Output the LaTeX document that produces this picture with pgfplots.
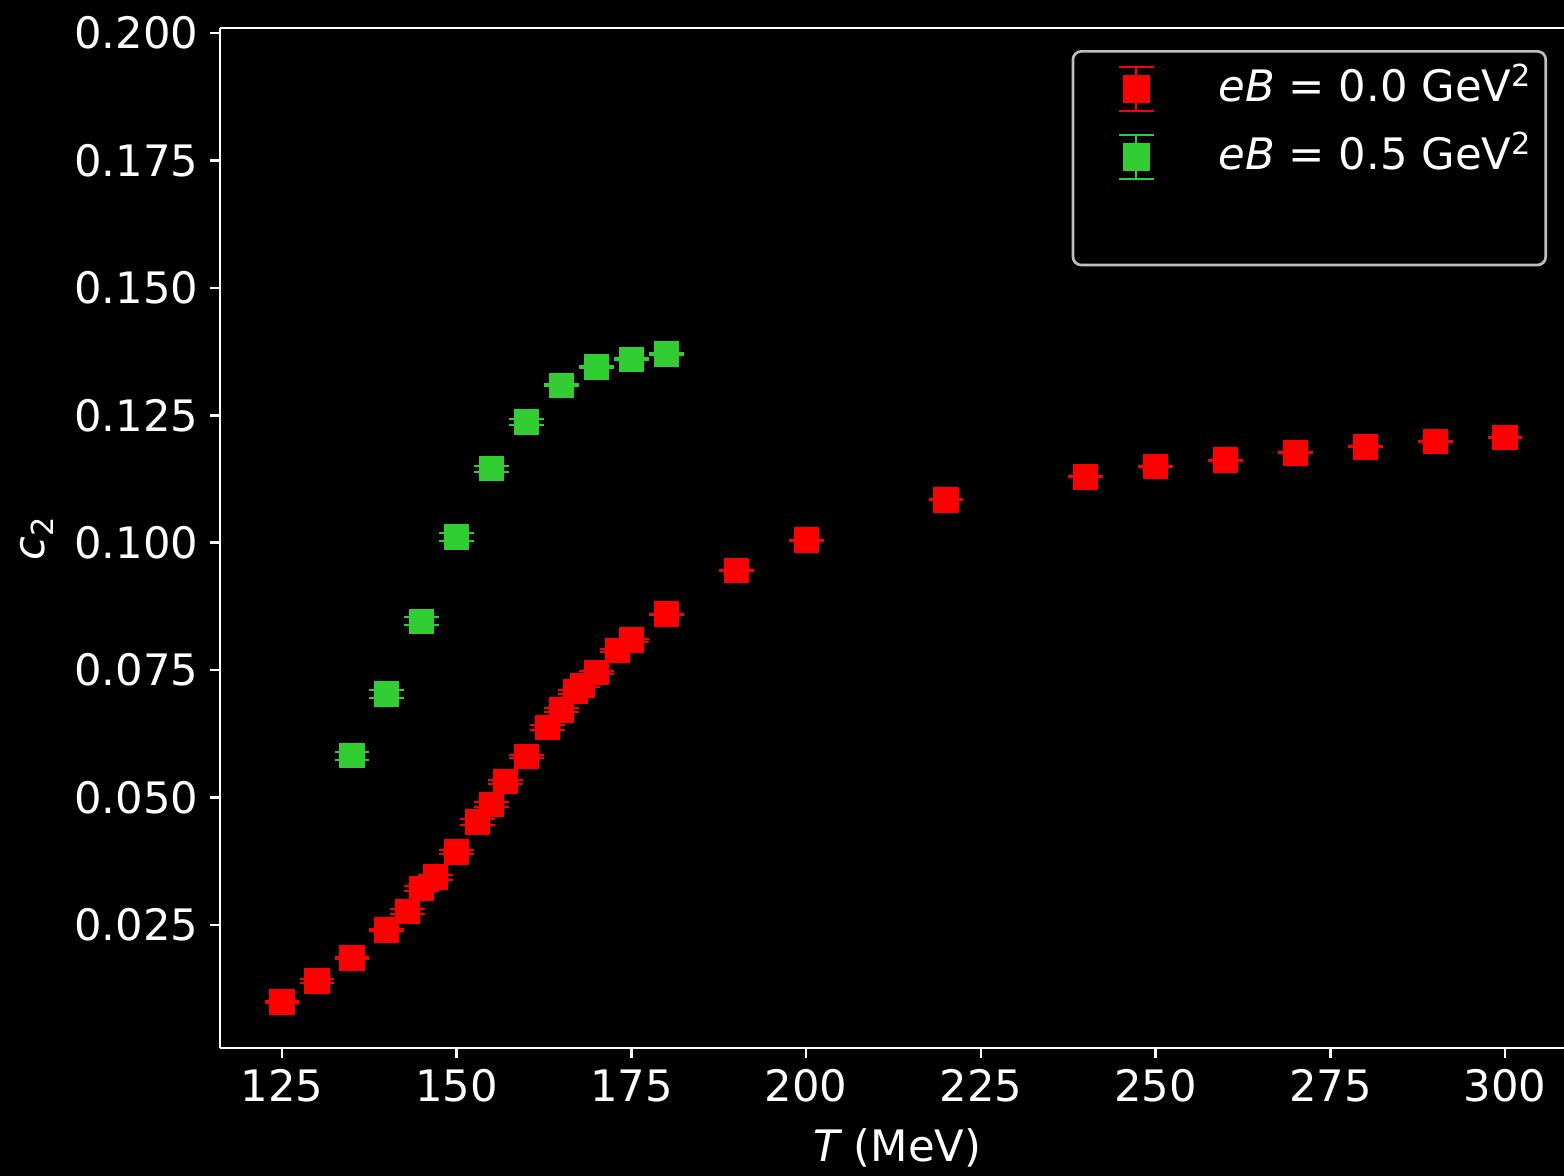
\documentclass[border=0pt]{standalone}
\usepackage{fontspec}
\setmainfont{DejaVu Sans}
\usepackage{pgfplots}
\pgfplotsset{compat=1.18}
\usepackage{pgfplotstable}

\definecolor{lgreen}{RGB}{50,205,50}
\definecolor{frame}{RGB}{190,190,190}

% eB = 0.0 GeV^2
\pgfplotstableread{
T    c      e
125  0.0099 0.0002
130  0.0140 0.0004
135  0.0185 0.0002
140  0.0240 0.0002
143  0.0277 0.0005
145  0.0321 0.0005
147  0.0344 0.0005
150  0.0393 0.0004
153  0.0452 0.0005
155  0.0487 0.0005
157  0.0531 0.0004
160  0.0580 0.0003
163  0.0637 0.0005
165  0.0672 0.0004
167  0.0708 0.0004
168  0.0720 0.0004
170  0.0746 0.0003
173  0.0788 0.0003
175  0.0809 0.0003
180  0.0860 0.0001
190  0.0945 0.0001
200  0.1005 0.0001
220  0.1084 0.0001
240  0.1129 0.0001
250  0.1149 0.0001
260  0.1162 0.0001
270  0.1176 0.0001
280  0.1188 0.0001
290  0.1198 0.0001
300  0.1207 0.0001
}\dataA

% eB = 0.5 GeV^2
\pgfplotstableread{
T    c      e
135  0.0582 0.0008
140  0.0703 0.0008
145  0.0846 0.0008
150  0.1011 0.0008
155  0.1145 0.0006
160  0.1237 0.0006
165  0.1309 0.0002
170  0.1345 0.0002
175  0.1360 0.0002
180  0.1370 0.0002
}\dataB

\pgfplotsset{
    ebimage/.style={legend image code/.code={
        \path (0pt,0pt) (21pt,0pt);
        \draw[#1, sharp corners, line width=0.6pt] (14.6pt,-6.6pt) -- (14.6pt,6.6pt)
            (9.4pt,-6.6pt) -- (19.8pt,-6.6pt) (9.4pt,6.6pt) -- (19.8pt,6.6pt);
        \fill[#1, sharp corners] (10.9pt,-3.8pt) rectangle (18.3pt,3.8pt);
    }},
}

\begin{document}
\begin{tikzpicture}
\fill[black] (-66pt,-38.4pt) rectangle (403.2pt,314.4pt);
\begin{axis}[
    scale only axis,
    width=403.2pt, height=306pt,
    xmin=116.13, xmax=308.43,
    ymin=0.00087, ymax=0.20098,
    separate axis lines,
    axis x line=box, axis y line=left,
    axis line style={-, white, line width=0.75pt},
    xtick={125,150,175,200,225,250,275,300},
    ytick={0.025,0.050,0.075,0.100,0.125,0.150,0.175,0.200},
    xtick pos=bottom, ytick pos=left,
    tick align=outside,
    major tick length=3pt,
    every tick/.style={white, line width=0.75pt},
    scaled y ticks=false,
    yticklabel style={/pgf/number format/.cd, fixed, fixed zerofill, precision=3},
    /pgf/number format/assume math mode=true,
    tick label style={white, font=\fontsize{13}{15.6}\selectfont},
    label style={white, font=\fontsize{13}{15.6}\selectfont},
    xlabel={{\itshape T} (MeV)},
    xlabel style={at={(axis description cs:0.504,-0.098)}, anchor=center},
    ylabel={{\itshape c}\textsubscript{2}},
    ylabel style={at={(axis description cs:-0.136,0.5)}, anchor=center},
    legend cell align=left,
    legend style={
        at={(0.9874,0.9784)}, anchor=north east,
        fill=black, draw=frame, line width=0.8pt, rounded corners=2.5pt,
        text=white, font=\fontsize{13}{15.6}\selectfont,
        inner xsep=4pt, inner ysep=4.5pt,
        row sep=6.6pt, column sep=17.9pt,
        nodes={inner sep=0pt, text height=9.5pt, text depth=2.5pt},
    },
]
\addplot[
    only marks, mark=square*, mark size=3.6pt, color=red, ebimage=red,
    error bars/.cd, y dir=both, y explicit,
    error mark=-, error mark options={rotate=90, red, mark size=5.2pt, line width=0.6pt},
    error bar style={line width=0.6pt},
] table[x=T, y=c, y error=e] {\dataA};
\addlegendentry{{\itshape eB} = 0.0 GeV\textsuperscript{2}}

\addplot[
    only marks, mark=square*, mark size=3.6pt, color=lgreen, ebimage=lgreen,
    error bars/.cd, y dir=both, y explicit,
    error mark=-, error mark options={rotate=90, lgreen, mark size=5.2pt, line width=0.6pt},
    error bar style={line width=0.6pt},
] table[x=T, y=c, y error=e] {\dataB};
\addlegendentry{{\itshape eB} = 0.5 GeV\textsuperscript{2}}

\addlegendimage{empty legend}
\addlegendentry[text depth=4.8pt]{}
\end{axis}
\pgfresetboundingbox
\path (-66pt,-38.4pt) rectangle (403.2pt,314.4pt);
\end{tikzpicture}
\end{document}
